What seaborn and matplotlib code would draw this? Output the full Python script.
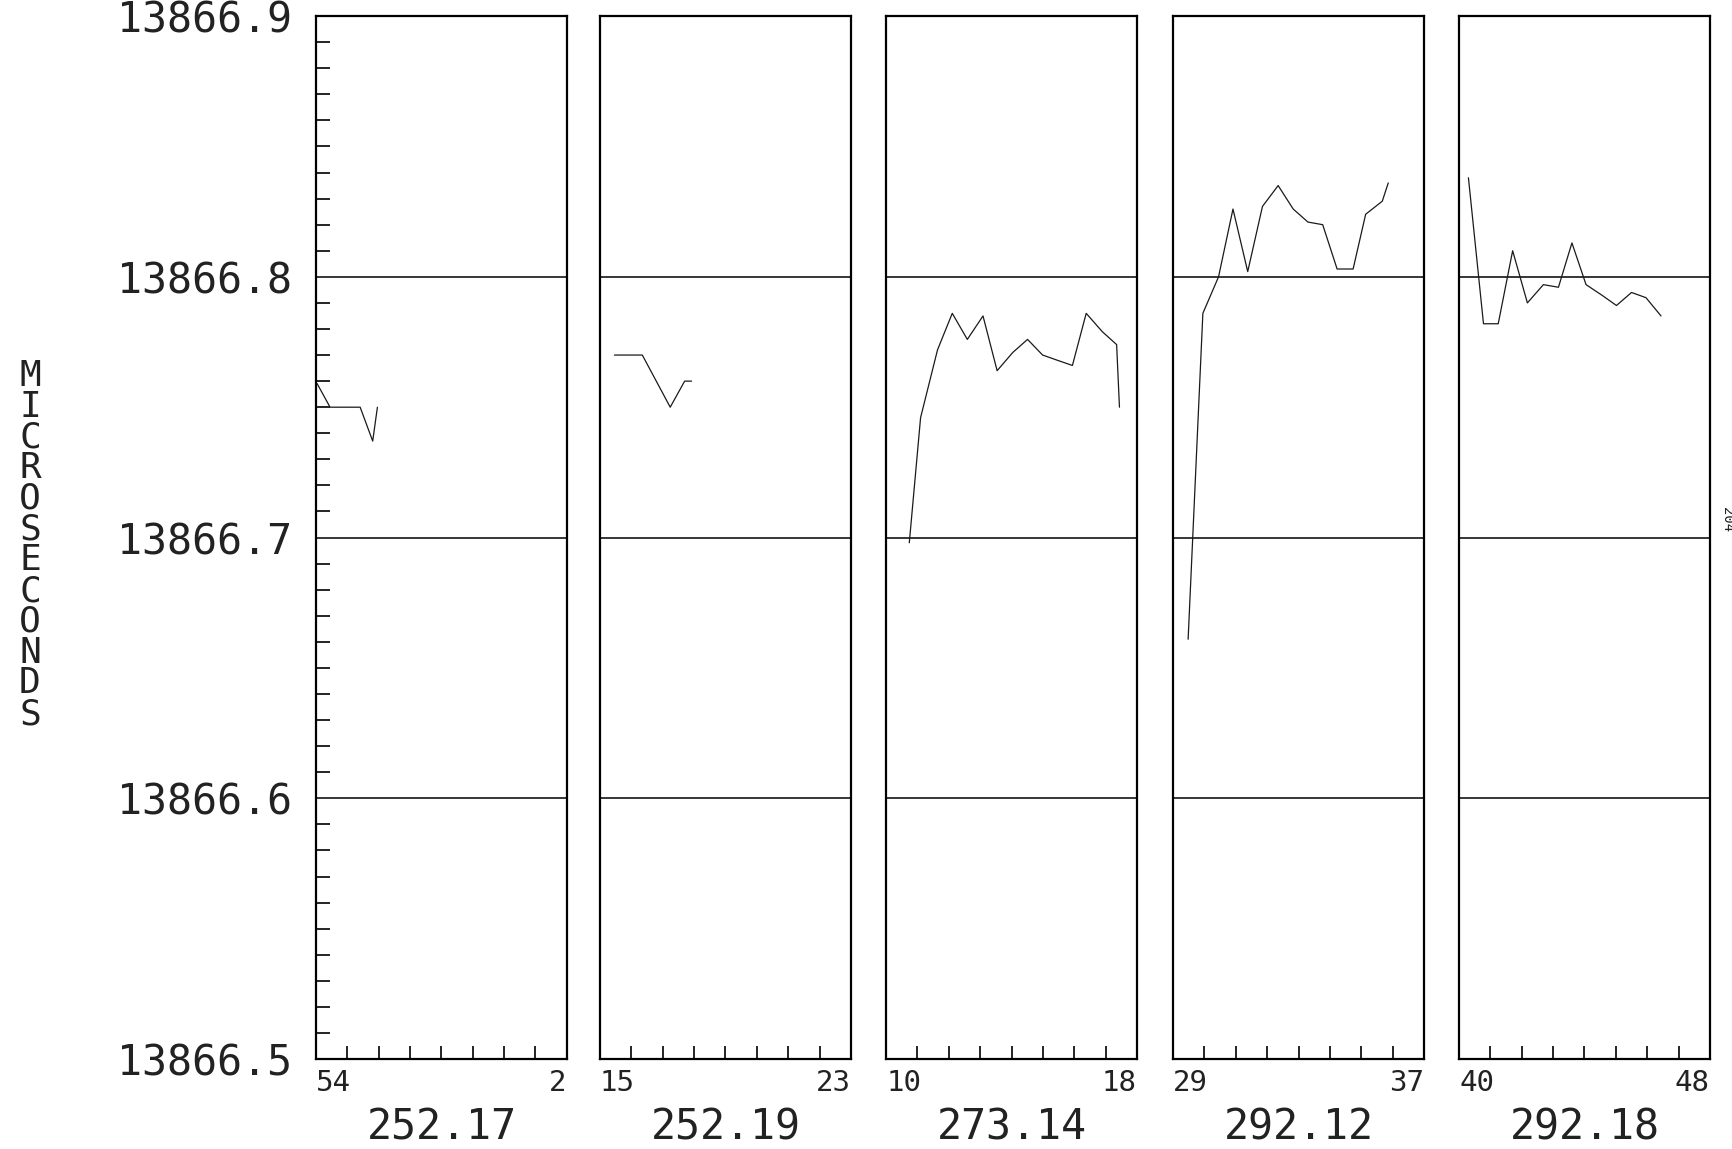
import matplotlib
matplotlib.use("Agg")
import matplotlib.pyplot as plt
from matplotlib.ticker import MultipleLocator
import numpy as np
import pandas as pd
import seaborn as sns

# panel captions and the minute labels at both ends of each x axis
titles = ["252.17", "252.19", "273.14", "292.12", "292.18"]
start_labels = ["54", "15", "10", "29", "40"]
end_labels = ["2", "23", "18", "37", "48"]

# readings: minutes after the first label, value - 13866 (microseconds)
x_1 = [0.04, 0.45, 0.93, 1.41, 1.81, 1.96]
y_1 = [0.759, 0.750, 0.750, 0.750, 0.737, 0.750]

x_2 = [0.46, 1.35, 2.24, 2.70, 2.92]
y_2 = [0.770, 0.770, 0.750, 0.760, 0.760]

x_3 = [0.74, 1.10, 1.64, 2.11, 2.59, 3.09, 3.54, 4.04, 4.51, 4.99, 5.46, 5.94, 6.38, 6.89, 7.35, 7.44]
y_3 = [0.698, 0.746, 0.772, 0.786, 0.776, 0.785, 0.764, 0.771, 0.776, 0.770, 0.768, 0.766, 0.786, 0.779, 0.774, 0.750]

x_4 = [0.48, 0.95, 1.45, 1.91, 2.38, 2.85, 3.35, 3.83, 4.30, 4.77, 5.23, 5.74, 6.14, 6.67, 6.86]
y_4 = [0.661, 0.786, 0.800, 0.826, 0.802, 0.827, 0.835, 0.826, 0.821, 0.820, 0.803, 0.803, 0.824, 0.829, 0.836]

x_5 = [0.30, 0.78, 1.25, 1.71, 2.18, 2.69, 3.17, 3.60, 4.05, 4.55, 5.02, 5.50, 5.96, 6.44]
y_5 = [0.838, 0.782, 0.782, 0.810, 0.790, 0.797, 0.796, 0.813, 0.797, 0.793, 0.789, 0.794, 0.792, 0.785]

BASE = 13866.0
y_major = [13866.5, 13866.6, 13866.7, 13866.8, 13866.9]

xs = [x_1, x_2, x_3, x_4, x_5]
ys = [y_1, y_2, y_3, y_4, y_5]

sns.set_theme(style="white")
plt.rcParams["font.family"] = ["DejaVu Sans Mono", "DejaVu Sans"]
plt.rcParams["axes.edgecolor"] = "black"
plt.rcParams["text.color"] = "#222222"
plt.rcParams["xtick.color"] = "#222222"
plt.rcParams["ytick.color"] = "#222222"

fig = plt.figure(figsize=(17.33, 11.49), dpi=100)

lefts = [0.1823, 0.3462, 0.5113, 0.6769, 0.8419]
bottom, width, height = 0.0783, 0.1448, 0.9077

for i, left in enumerate(lefts):
    ax = fig.add_axes([left, bottom, width, height])
    df = pd.DataFrame({"minute": xs[i], "value": np.array(ys[i]) + BASE})
    sns.lineplot(data=df, x="minute", y="value", ax=ax, color="#1a1a1a",
                 linewidth=0.9, estimator=None, sort=False)

    ax.set_xlim(0, 8)
    ax.set_ylim(13866.5, 13866.9)
    for sp in ax.spines.values():
        sp.set_linewidth(1.6)
        sp.set_color("black")

    # horizontal reference lines at every 0.1
    ax.set_yticks(y_major)
    ax.grid(axis="y", which="major", color="black", linewidth=1.1)
    ax.grid(axis="x", visible=False)

    # x axis: labels only at the ends, inward minute ticks
    ax.set_xticks([0, 8], [start_labels[i], end_labels[i]])
    xt = ax.get_xticklabels()
    xt[0].set_horizontalalignment("left")
    xt[1].set_horizontalalignment("right")
    ax.xaxis.set_minor_locator(MultipleLocator(1))
    ax.tick_params(axis="x", which="major", length=0, pad=7, labelsize=21)
    ax.tick_params(axis="x", which="minor", direction="in", length=9.5,
                   width=1.2, color="black", bottom=True)

    if i == 0:
        ax.set_yticklabels([f"{v:.1f}" for v in y_major])
        ax.yaxis.set_minor_locator(MultipleLocator(0.01))
        ax.tick_params(axis="y", which="major", length=0, pad=17, labelsize=30)
        ax.tick_params(axis="y", which="minor", direction="in", length=10,
                       width=1.2, color="black", left=True)
    else:
        ax.tick_params(axis="y", which="both", left=False, labelleft=False)

    ax.set_xlabel("")
    ax.set_ylabel("")
    ax.text(0.5, -0.066, titles[i], transform=ax.transAxes,
            ha="center", va="center", fontsize=30)

fig.text(30 / 1733, 1 - 545 / 1149, "\n".join("MICROSECONDS"),
         ha="center", va="center", fontsize=26, linespacing=0.88)
fig.text(1727 / 1733, 1 - 520 / 1149, "204", rotation=-90,
         ha="center", va="center", fontsize=10)

fig.savefig("out.png", dpi=100, facecolor="white")
